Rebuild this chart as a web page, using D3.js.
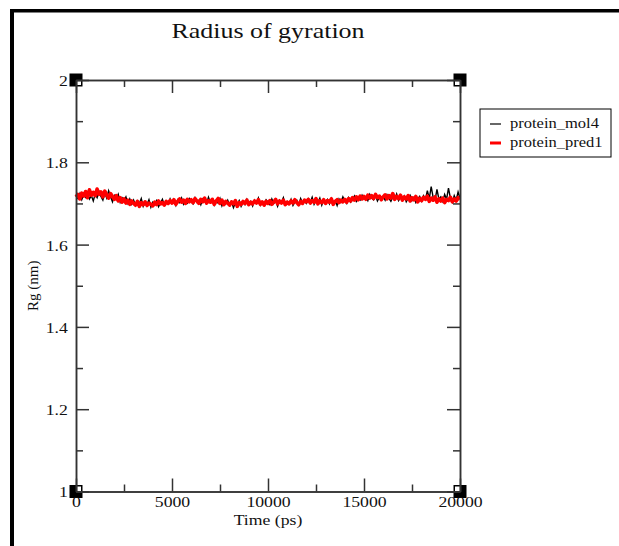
<!DOCTYPE html>
<html>
<head>
<meta charset="utf-8">
<script src="https://cdn.jsdelivr.net/npm/d3@7"></script>
<style>
	body { margin: 0; background: #fff; }
	text { font-family: "Liberation Serif", "DejaVu Serif", serif; fill: #111; }
</style>
</head>
<body>
<div id="chart"></div>
<script>

// Rg (nm) sampled every 100 ps, 0 .. 20000 ps
const timeStep = 100;

const mol4 = [
	1.718, 1.712, 1.724, 1.709, 1.721, 1.715, 1.727, 1.711, 1.719, 1.706,
	1.723, 1.714, 1.729, 1.717, 1.708, 1.725, 1.713, 1.731, 1.716, 1.704,
	1.719, 1.710, 1.722, 1.703, 1.714, 1.707, 1.716, 1.700, 1.711, 1.698,
	1.708, 1.695, 1.706, 1.700, 1.712, 1.693, 1.704, 1.698, 1.709, 1.691,
	1.703, 1.697, 1.707, 1.692, 1.701, 1.710, 1.696, 1.704, 1.699, 1.711,
	1.700, 1.706, 1.695, 1.709, 1.702, 1.713, 1.698, 1.707, 1.701, 1.712,
	1.704, 1.699, 1.714, 1.703, 1.708, 1.697, 1.711, 1.705, 1.700, 1.715,
	1.702, 1.709, 1.696, 1.707, 1.701, 1.712, 1.694, 1.705, 1.699, 1.708,
	1.696, 1.704, 1.690, 1.702, 1.698, 1.707, 1.693, 1.703, 1.697, 1.710,
	1.699, 1.705, 1.694, 1.708, 1.701, 1.713, 1.696, 1.704, 1.700, 1.709,
	1.703, 1.697, 1.711, 1.700, 1.706, 1.693, 1.708, 1.702, 1.714, 1.698,
	1.705, 1.699, 1.710, 1.695, 1.704, 1.708, 1.697, 1.712, 1.701, 1.706,
	1.700, 1.711, 1.703, 1.715, 1.698, 1.707, 1.702, 1.713, 1.696, 1.709,
	1.704, 1.710, 1.699, 1.712, 1.701, 1.707, 1.695, 1.711, 1.703, 1.716,
	1.706, 1.700, 1.714, 1.703, 1.709, 1.718, 1.705, 1.712, 1.708, 1.720,
	1.711, 1.716, 1.707, 1.722, 1.713, 1.709, 1.719, 1.706, 1.715, 1.710,
	1.717, 1.708, 1.721, 1.712, 1.705, 1.716, 1.710, 1.723, 1.707, 1.714,
	1.709, 1.718, 1.704, 1.713, 1.720, 1.707, 1.715, 1.702, 1.711, 1.717,
	1.706, 1.719, 1.710, 1.731, 1.712, 1.741, 1.715, 1.708, 1.734, 1.711,
	1.716, 1.705, 1.722, 1.710, 1.737, 1.713, 1.703, 1.719, 1.708, 1.728,
	1.712
];

const pred1 = [
	1.716, 1.722, 1.711, 1.725, 1.718, 1.729, 1.714, 1.733, 1.720, 1.727,
	1.719, 1.735, 1.722, 1.728, 1.716, 1.730, 1.721, 1.713, 1.724, 1.717,
	1.710, 1.719, 1.706, 1.714, 1.703, 1.711, 1.701, 1.708, 1.698, 1.706,
	1.700, 1.696, 1.705, 1.693, 1.702, 1.697, 1.704, 1.695, 1.701, 1.698,
	1.694, 1.703, 1.697, 1.706, 1.699, 1.702, 1.696, 1.705, 1.700, 1.707,
	1.701, 1.709, 1.698, 1.705, 1.711, 1.703, 1.708, 1.700, 1.710, 1.704,
	1.709, 1.702, 1.712, 1.706, 1.700, 1.710, 1.704, 1.713, 1.701, 1.707,
	1.703, 1.710, 1.698, 1.706, 1.712, 1.700, 1.708, 1.697, 1.705, 1.701,
	1.696, 1.704, 1.699, 1.707, 1.693, 1.702, 1.698, 1.705, 1.700, 1.708,
	1.697, 1.703, 1.699, 1.706, 1.701, 1.709, 1.698, 1.704, 1.696, 1.705,
	1.700, 1.707, 1.698, 1.704, 1.710, 1.699, 1.706, 1.701, 1.708, 1.697,
	1.703, 1.699, 1.706, 1.701, 1.709, 1.702, 1.697, 1.705, 1.700, 1.708,
	1.704, 1.710, 1.701, 1.707, 1.703, 1.712, 1.699, 1.706, 1.702, 1.709,
	1.700, 1.707, 1.703, 1.711, 1.698, 1.705, 1.709, 1.702, 1.708, 1.704,
	1.710, 1.703, 1.712, 1.706, 1.714, 1.708, 1.716, 1.709, 1.718, 1.711,
	1.717, 1.710, 1.720, 1.713, 1.719, 1.712, 1.722, 1.714, 1.718, 1.709,
	1.716, 1.721, 1.711, 1.719, 1.713, 1.724, 1.710, 1.717, 1.712, 1.720,
	1.708, 1.716, 1.711, 1.719, 1.706, 1.714, 1.709, 1.717, 1.704, 1.712,
	1.707, 1.715, 1.710, 1.718, 1.705, 1.713, 1.708, 1.716, 1.703, 1.711,
	1.706, 1.713, 1.702, 1.710, 1.707, 1.715, 1.704, 1.711, 1.706, 1.714,
	1.710
];

const seriesNames = ["protein_mol4", "protein_pred1"];
const xMajorTicks = [0, 5000, 10000, 15000, 20000];
const xMinorTicks = [2500, 7500, 12500, 17500];
const yMajorTicks = [1, 1.2, 1.4, 1.6, 1.8, 2];
const yMinorTicks = [1.1, 1.3, 1.5, 1.7, 1.9];

const W = 619, H = 546;
const plot = { left: 76, right: 460, top: 80, bottom: 491.5 };
const stretch = 1.18; // glyphs in the source are a little wide

let svg = d3.select("#chart").append("svg")
	.attr("width", W)
	.attr("height", H);

svg.append("rect").attr("width", W).attr("height", H).attr("fill", "#fff");

// page frame (top and left edges)
svg.append("rect").attr("x", 10).attr("y", 9).attr("width", W - 10).attr("height", 3.5).attr("fill", "#000");
svg.append("rect").attr("x", 10).attr("y", 9).attr("width", 4).attr("height", H - 9).attr("fill", "#000");

let x = d3.scaleLinear().domain([0, 20000]).range([plot.left, plot.right]);
let y = d3.scaleLinear().domain([1, 2]).range([plot.bottom, plot.top]);

// data lines
let line = d3.line()
	.x((d, i) => x(i * timeStep))
	.y(d => y(d));

svg.append("path")
	.datum(mol4)
	.attr("fill", "none")
	.attr("stroke", "#000")
	.attr("stroke-width", 1.4)
	.attr("d", line);

svg.append("path")
	.datum(pred1)
	.attr("fill", "none")
	.attr("stroke", "#ff0000")
	.attr("stroke-width", 3.6)
	.attr("stroke-linejoin", "round")
	.attr("d", line);

// corner handles (drawn under the axis lines)
const corners = [
	[plot.left, plot.top, 1, 1], [plot.right, plot.top, -1, 1],
	[plot.left, plot.bottom, 1, -1], [plot.right, plot.bottom, -1, -1]
];
corners.forEach(c => {
	svg.append("rect")
		.attr("x", c[0] - 6.5).attr("y", c[1] - 6.5)
		.attr("width", 13).attr("height", 13)
		.attr("fill", "#000");
	svg.append("rect")
		.attr("x", c[2] > 0 ? c[0] : c[0] - 5)
		.attr("y", c[3] > 0 ? c[1] : c[1] - 5)
		.attr("width", 5).attr("height", 5)
		.attr("fill", "#fff");
});

// axes - ticks point inwards on all four sides
function styleAxis(g) {
	g.selectAll("path, line").attr("stroke", "#333").attr("stroke-width", 1.5);
	g.selectAll("text")
		.style("font-family", '"Liberation Serif", serif')
		.style("font-size", "15px")
		.attr("fill", "#111");
}

let fmt = d3.format("d");
let yfmt = d => (d === 1 || d === 2) ? d : d.toFixed(1);

svg.append("g")
	.attr("transform", "translate(0," + plot.bottom + ")")
	.call(d3.axisBottom(x).tickValues(xMajorTicks).tickFormat(fmt).tickSize(-13).tickSizeOuter(0).tickPadding(5))
	.call(styleAxis)
	.call(g => g.selectAll("text").attr("transform", "scale(" + stretch + ",1)"));

svg.append("g")
	.attr("transform", "translate(0," + plot.bottom + ")")
	.call(d3.axisBottom(x).tickValues(xMinorTicks).tickFormat("").tickSize(-7).tickSizeOuter(0))
	.call(styleAxis);

svg.append("g")
	.attr("transform", "translate(0," + plot.top + ")")
	.call(d3.axisTop(x).tickValues(xMajorTicks).tickFormat("").tickSize(-13).tickSizeOuter(0))
	.call(styleAxis);

svg.append("g")
	.attr("transform", "translate(0," + plot.top + ")")
	.call(d3.axisTop(x).tickValues(xMinorTicks).tickFormat("").tickSize(-7).tickSizeOuter(0))
	.call(styleAxis);

svg.append("g")
	.attr("transform", "translate(" + plot.left + ",0)")
	.call(d3.axisLeft(y).tickValues(yMajorTicks).tickFormat(yfmt).tickSize(-13).tickSizeOuter(0).tickPadding(7))
	.call(styleAxis)
	.call(g => g.selectAll("text").attr("transform", "scale(" + stretch + ",1)").attr("dy", "0.36em"));

svg.append("g")
	.attr("transform", "translate(" + plot.left + ",0)")
	.call(d3.axisLeft(y).tickValues(yMinorTicks).tickFormat("").tickSize(-7).tickSizeOuter(0))
	.call(styleAxis);

svg.append("g")
	.attr("transform", "translate(" + plot.right + ",0)")
	.call(d3.axisRight(y).tickValues(yMajorTicks).tickFormat("").tickSize(-13).tickSizeOuter(0))
	.call(styleAxis);

svg.append("g")
	.attr("transform", "translate(" + plot.right + ",0)")
	.call(d3.axisRight(y).tickValues(yMinorTicks).tickFormat("").tickSize(-7).tickSizeOuter(0))
	.call(styleAxis);

// title and axis labels
svg.append("text")
	.attr("transform", "translate(" + ((plot.left + plot.right) / 2) + ",38) scale(" + stretch + ",1)")
	.attr("text-anchor", "middle")
	.style("font-size", "22px")
	.text("Radius of gyration");

svg.append("text")
	.attr("transform", "translate(" + ((plot.left + plot.right) / 2) + ",525) scale(" + stretch + ",1)")
	.attr("text-anchor", "middle")
	.style("font-size", "15px")
	.text("Time (ps)");

svg.append("text")
	.attr("transform", "translate(38," + ((plot.top + plot.bottom) / 2) + ") rotate(-90)")
	.attr("text-anchor", "middle")
	.style("font-size", "15px")
	.text("Rg (nm)");

// legend
let legend = svg.append("g").attr("transform", "translate(480,109)");
legend.append("rect")
	.attr("width", 131).attr("height", 48)
	.attr("fill", "#fff").attr("stroke", "#000").attr("stroke-width", 1);

const legendColors = ["#000", "#ff0000"];
const legendWidths = [1.2, 3];
seriesNames.forEach((name, i) => {
	let row = legend.append("g").attr("transform", "translate(0," + (15 + i * 19) + ")");
	row.append("line")
		.attr("x1", 10).attr("x2", 21)
		.attr("stroke", legendColors[i]).attr("stroke-width", legendWidths[i]);
	row.append("text")
		.attr("transform", "translate(30,4) scale(" + stretch + ",1)")
		.style("font-size", "14px")
		.text(name);
});

</script>
</body>
</html>
